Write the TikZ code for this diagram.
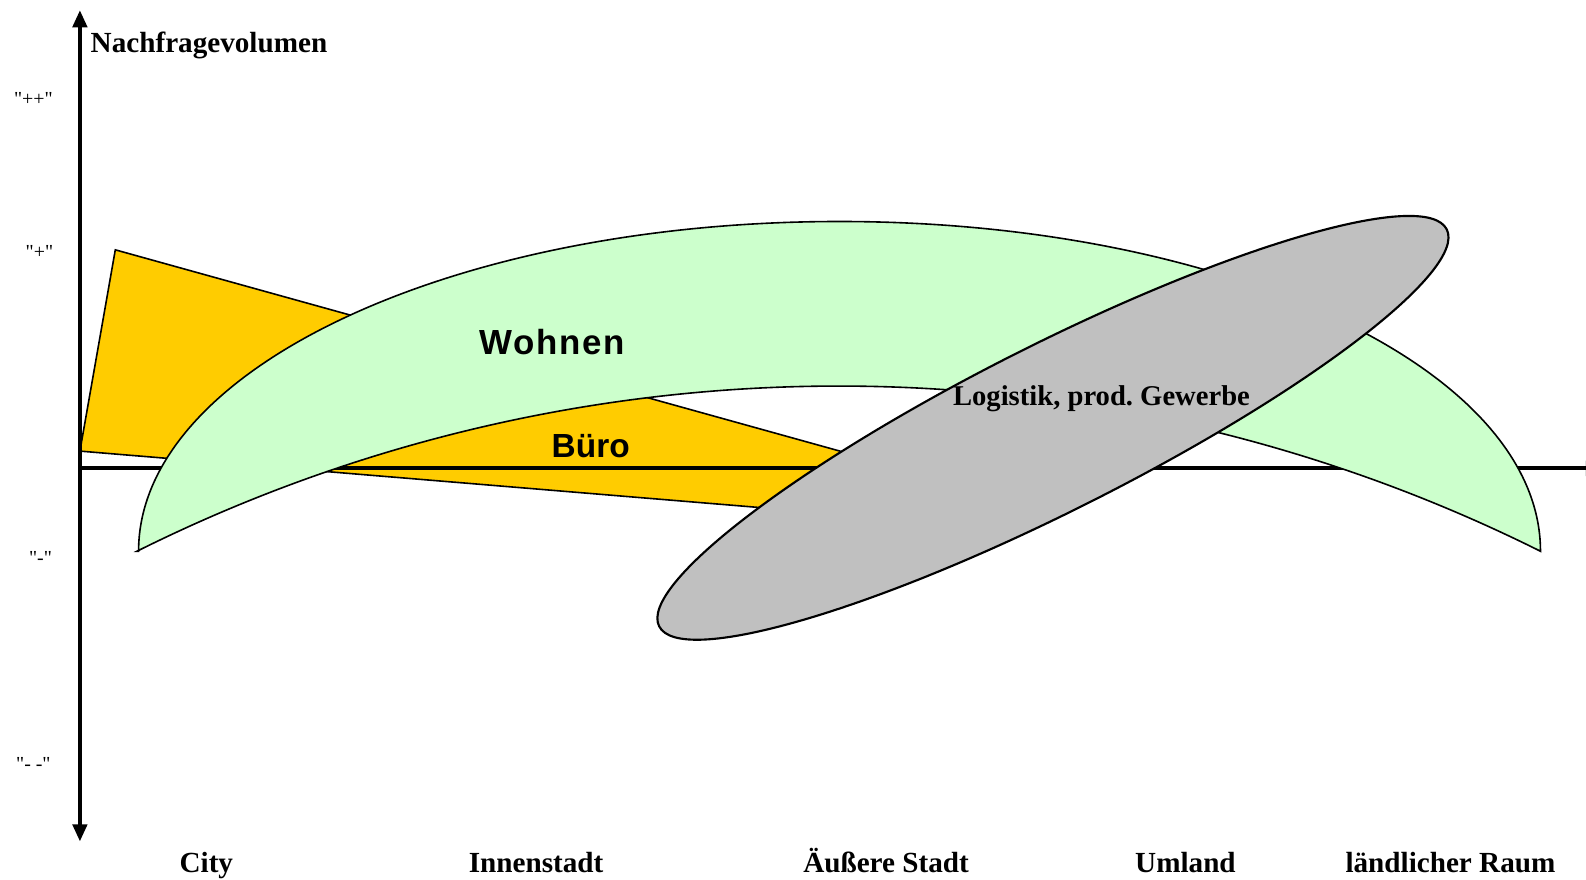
\documentclass[tikz,border=0pt]{standalone}
\usepackage{fontspec}
\setmainfont{Liberation Serif}
\newfontfamily\arialfont{Liberation Sans}
\newfontfamily\arialwide[LetterSpace=5]{Liberation Sans}
\usetikzlibrary{arrows.meta}
\definecolor{buero}{RGB}{255,204,0}
\definecolor{wohnen}{RGB}{204,255,204}
\definecolor{logistik}{RGB}{192,192,192}
\frenchspacing

\tikzset{
  axisline/.style={line width=0.04cm},
  axistip/.tip={Triangle[width=0.14cm,length=0.17cm]},
  area/.style={draw=black,line width=0.45pt},
  axislabel/.style={font=\bfseries\fontsize{8.2}{10}\selectfont},
  ticklabel/.style={font=\fontsize{5.6}{7}\selectfont},
  arealabel/.style={font=\arialfont\bfseries\fontsize{9.4}{12}\selectfont}
}

\begin{document}
\begin{tikzpicture}[x=0.01cm,y=0.01cm]
  \useasboundingbox (0,10) rectangle (1568,880);

  % Buero
  \filldraw[area,fill=buero] (79,434) -- (114,633) -- (978,393) -- (1050,635)
    -- (1140,550) -- (850,370) -- cycle;

  % Axes
  \coordinate (origin) at (79,417);
  \coordinate (ytop) at (79,870);
  \coordinate (ybottom) at (79,48);
  \coordinate (xend) at (1585,417);
  \draw[axisline,axistip-axistip] (ybottom) -- (ytop);
  \draw[axisline,-axistip] (origin) -- (xend);

  % Wohnen
  \filldraw[area,fill=wohnen] (137,335)
    arc[start angle=180,end angle=0,x radius=693,y radius=326]
    arc[start angle=63.5,end angle=116.5,radius=1555] -- cycle;

  % Logistik, prod. Gewerbe
  \filldraw[draw=black,line width=0.6pt,fill=logistik,rotate around={26.75:(1041,457)}]
    (1041,457) ellipse [x radius=436,y radius=82];

  % Labels
  \node[axislabel,anchor=base west,inner sep=0pt] (volumen) at (89,828) {Nachfragevolumen};
  \node[ticklabel] (plusplus) at (33,782) {\textquotedbl++\textquotedbl};
  \node[ticklabel] (plus) at (39,631) {\textquotedbl+\textquotedbl};
  \node[ticklabel] (minus) at (40,328) {\textquotedbl-\textquotedbl};
  \node[ticklabel] (minusminus) at (33,125) {\textquotedbl- -\textquotedbl};

  \node[axislabel,anchor=base] (city) at (204,17) {City};
  \node[axislabel,anchor=base] (innenstadt) at (530,17) {Innenstadt};
  \node[axislabel,anchor=base] (aussen) at (876,17) {Äußere Stadt};
  \node[axislabel,anchor=base] (umland) at (1172,17) {Umland};
  \node[axislabel,anchor=base] (laendlich) at (1434,17) {ländlicher Raum};

  \node[arealabel,font=\arialwide\bfseries\fontsize{9.8}{12}\selectfont] (wohnenlabel) at (546,542) {Wohnen};
  \node[arealabel] (buerolabel) at (584,439) {Büro};
  \node[axislabel,font=\bfseries\fontsize{8.05}{10}\selectfont] (logistiklabel) at (1089,486) {Logistik, prod. Gewerbe};
\end{tikzpicture}
\end{document}
